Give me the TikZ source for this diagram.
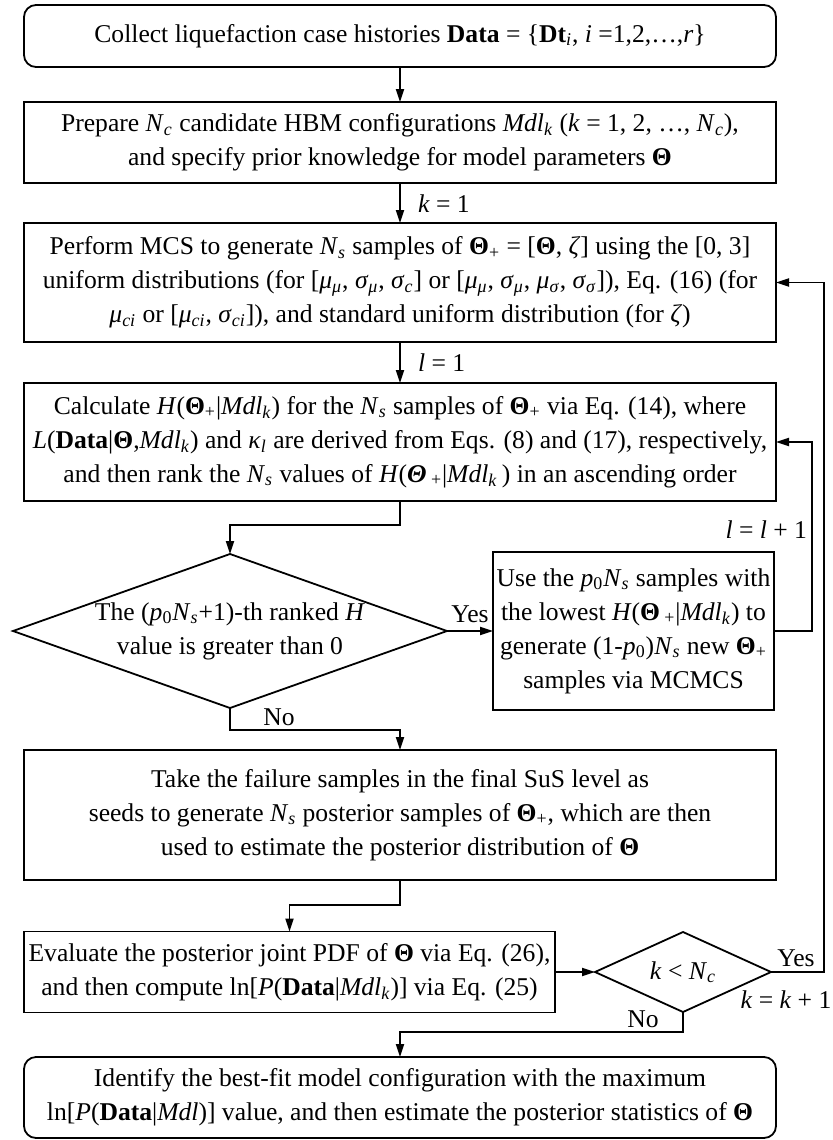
\documentclass[tikz,border=0pt]{standalone}
\usepackage{fontspec}
\setmainfont{Liberation Serif}
\usetikzlibrary{shapes.geometric,arrows.meta}
\newcommand{\ii}[1]{\textit{#1}}
\newcommand{\sbi}[1]{\textsubscript{\textit{#1}}}
\newcommand{\sbr}[1]{\textsubscript{#1}}
\newcommand{\bT}{\textbf{Θ}}
\begin{document}
\begin{tikzpicture}[x=0.5pt,y=-0.5pt,
  every node/.style={font=\fontsize{12.8}{17}\selectfont, outer sep=0pt},
  box/.style={draw, line width=0.9pt, inner sep=0pt, align=center, minimum width=376pt},
  rbox/.style={box, rounded corners=6pt},
  dia/.style={draw, line width=0.9pt, diamond, inner sep=0pt, align=center},
  arr/.style={line width=0.9pt, -{Triangle[length=6.5pt,width=4pt]}},
  lbl/.style={inner sep=0pt}
]
\useasboundingbox (0,0) rectangle (832,1140);

\node[rbox, minimum height=31pt] (b1) at (400,36)
  {Collect liquefaction case histories \textbf{Data} = \{\textbf{Dt}\sbi{i}, \ii{i} =1,2,…,\ii{r}\}};

\node[box, minimum height=40.5pt] (b2) at (400,142.5)
  {Prepare \ii{N}\sbi{c} candidate HBM configurations \ii{Mdl}\sbi{k} (\ii{k} = 1, 2, …, \ii{N}\sbi{c}),\\
   and specify prior knowledge for model parameters \bT};

\node[box, minimum height=59.5pt] (b3) at (400,282.5)
  {Perform MCS to generate \ii{N}\sbi{s} samples of \bT\sbr{+} = [\bT, \ii{ζ}] using the [0, 3]\\
   uniform distributions (for [\ii{μ}\sbi{μ}, \ii{σ}\sbi{μ}, \ii{σ}\sbi{c}] or [\ii{μ}\sbi{μ}, \ii{σ}\sbi{μ}, \ii{μ}\sbi{σ}, \ii{σ}\sbi{σ}]), Eq. (16) (for\\
   \ii{μ}\sbi{ci} or [\ii{μ}\sbi{ci}, \ii{σ}\sbi{ci}]), and standard uniform distribution (for \ii{ζ})};

\node[box, minimum height=59pt] (b4) at (400,442)
  {Calculate \ii{H}(\bT\sbr{+}|\ii{Mdl}\sbi{k}) for the \ii{N}\sbi{s} samples of \bT\sbr{+} via Eq. (14), where\\
   \ii{L}(\textbf{Data}|\bT,\ii{Mdl}\sbi{k}) and \ii{κ}\sbi{l} are derived from Eqs. (8) and (17), respectively,\\
   and then rank the \ii{N}\sbi{s} values of \ii{H}(\textbf{\textit{Θ}}\,\sbr{+}|\ii{Mdl}\sbi{k}\,) in an ascending order};

\node[dia, minimum width=217pt, minimum height=77pt, aspect=2.8] (d1) at (230,631)
  {The (\ii{p}\sbr{0}\ii{N}\sbi{s}+1)-th ranked \ii{H}\\ value is greater than 0};

\node[box, minimum width=140.5pt, minimum height=79pt] (b5) at (633.5,631)
  {Use the \ii{p}\sbr{0}\ii{N}\sbi{s} samples with\\
   the lowest \ii{H}(\bT\,\sbr{+}|\ii{Mdl}\sbi{k}) to\\
   generate (1-\ii{p}\sbr{0})\ii{N}\sbi{s} new \bT\sbr{+}\\
   samples via MCMCS};

\node[box, minimum height=65pt] (b6) at (400,815)
  {Take the failure samples in the final SuS level as\\
   seeds to generate \ii{N}\sbi{s} posterior samples of \bT\sbr{+}, which are then\\
   used to estimate the posterior distribution of \bT};

\node[box, minimum width=265.5pt, minimum height=40.5pt] (b7) at (289.5,972)
  {Evaluate the posterior joint PDF of \bT{} via Eq. (26),\\
   and then compute ln[\ii{P}(\textbf{Data}|\ii{Mdl}\sbi{k})] via Eq. (25)};

\node[dia, minimum width=88pt, minimum height=40pt, aspect=2.2] (d2) at (683,972)
  {\ii{k} < \ii{N}\sbi{c}};

\node[rbox, minimum height=40.5pt] (b8) at (400,1097.5)
  {Identify the best-fit model configuration with the maximum\\
   ln[\ii{P}(\textbf{Data}|\ii{Mdl})] value, and then estimate the posterior statistics of \bT};

% connectors
\draw[arr] (b1.south) -- (b2.north);
\draw[arr] (b2.south) -- (b3.north);
\draw[arr] (b3.south) -- (b4.north);
\draw[arr] (b4.south) -- ++(0,24) -| (d1.north);
\draw[arr] (d1.east) -- (b5.west);
\draw[arr] (b5.east) -- ++(38,0) |- (b4.east);
\draw[arr] (d1.south) -- ++(0,22) -| (b6.north);
\draw[arr] (b6.south) -- ++(0,25) -| (b7.north);
\draw[arr] (b7.east) -- (d2.west);
\draw[arr] (d2.east) -- ++(53,0) |- (b3.east);
\draw[arr] (d2.south) -- ++(0,20) -| (b8.north);

% labels
\node[lbl, anchor=west] (lk1) at (418,204) {\ii{k} = 1};
\node[lbl, anchor=west] (ll1) at (418,363) {\ii{l} = 1};
\node[lbl] (ly1) at (470,614) {Yes};
\node[lbl, anchor=east] (lll) at (807,530) {\ii{l} = \ii{l} + 1};
\node[lbl] (ln1) at (279,717) {No};
\node[lbl] (ly2) at (796,958) {Yes};
\node[lbl] (lkk) at (786,1000) {\ii{k} = \ii{k} + 1};
\node[lbl] (ln2) at (643,1019) {No};
\end{tikzpicture}
\end{document}
